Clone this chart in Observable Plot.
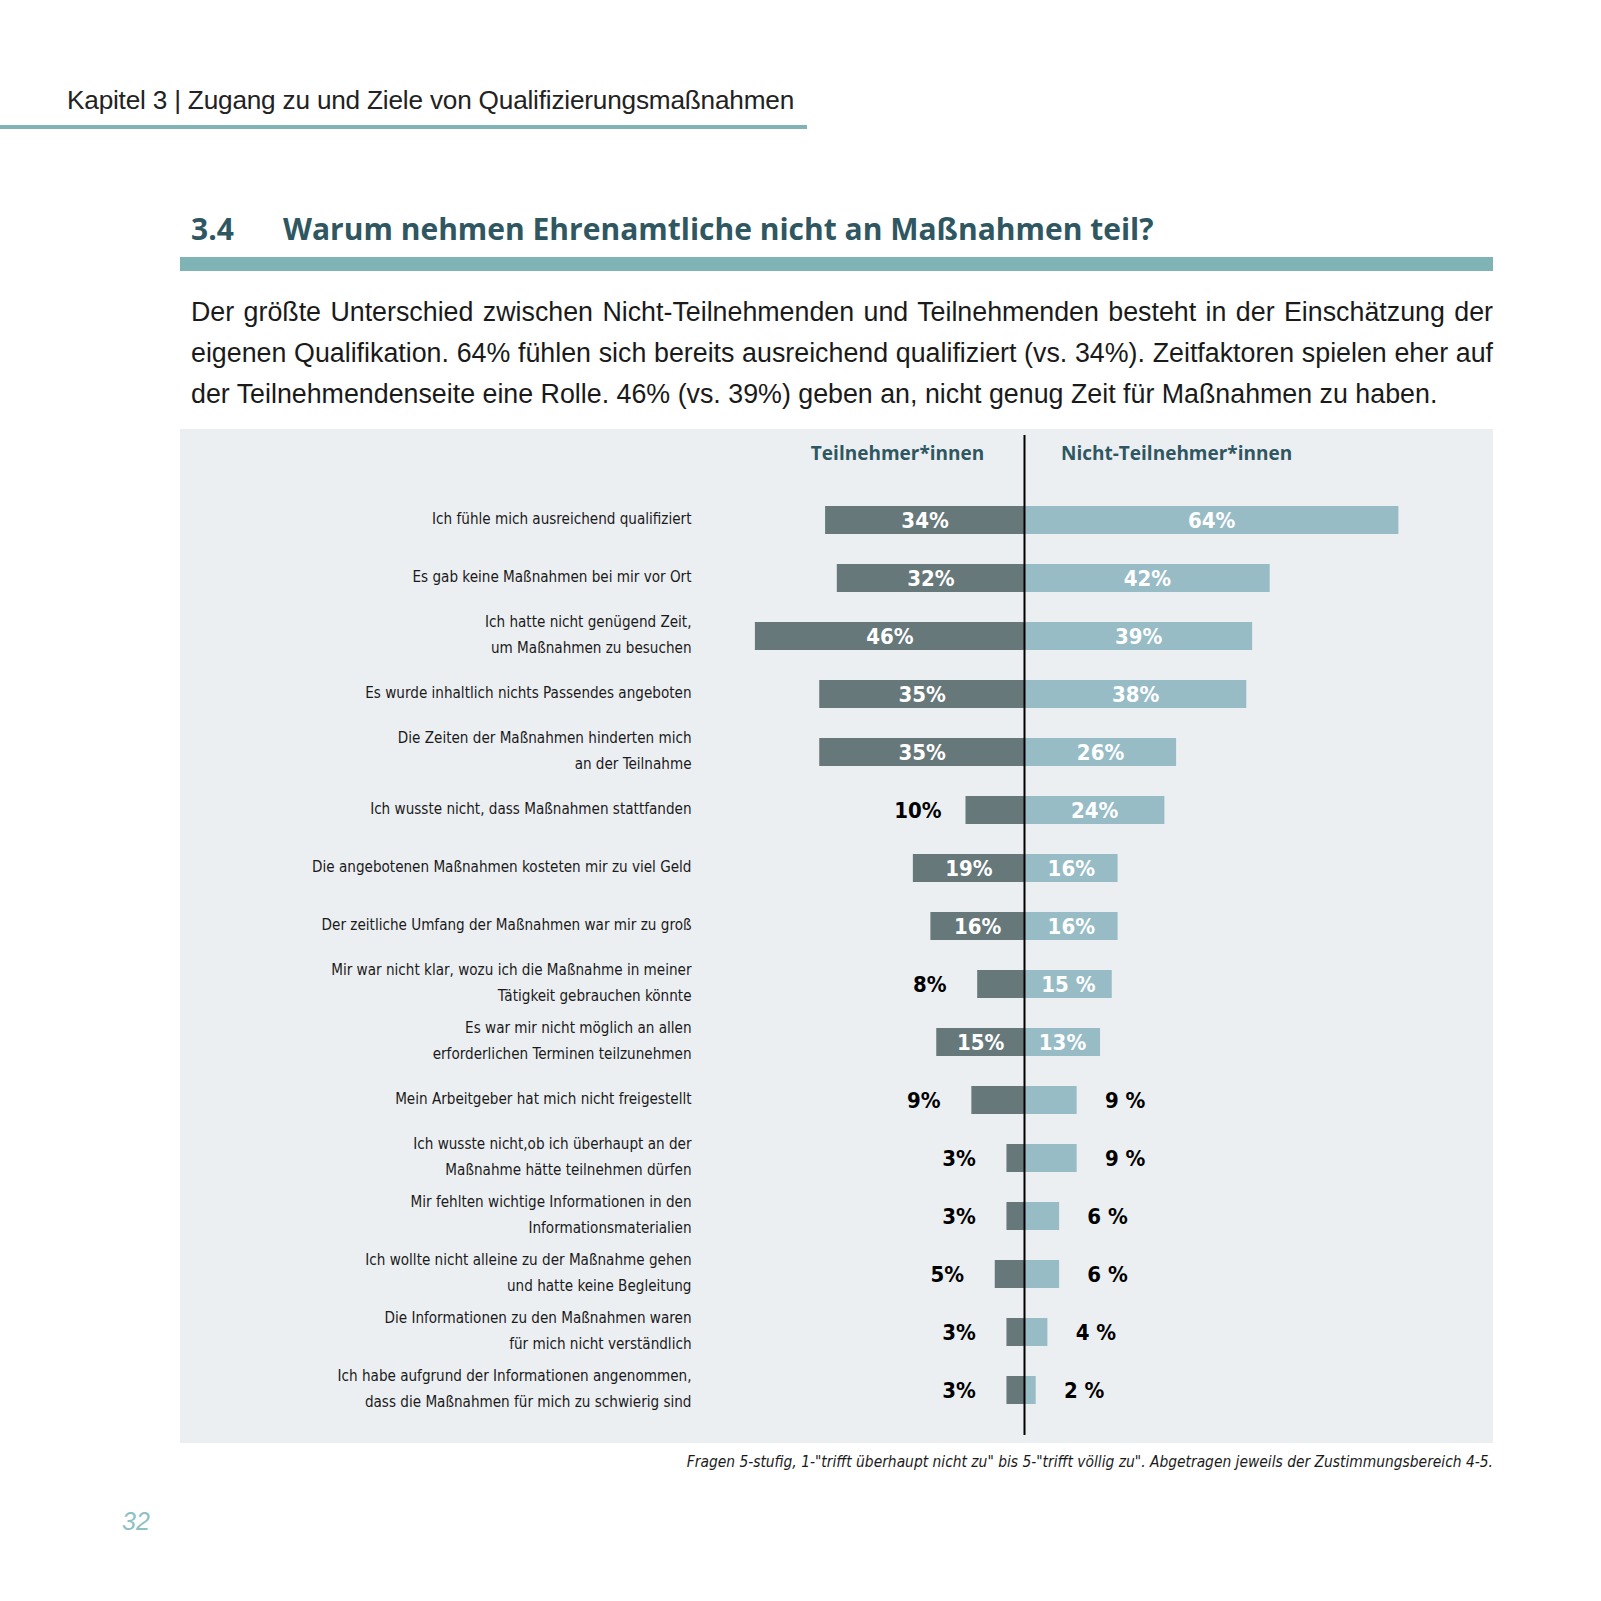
<!DOCTYPE html>
<html>
<head>
<meta charset="utf-8">
<script src="https://cdn.jsdelivr.net/npm/d3@7"></script>
<script src="https://cdn.jsdelivr.net/npm/@observablehq/plot@0.6"></script>
<style>
  html, body { margin: 0; padding: 0; background: #fff; }
  body { width: 1601px; height: 1601px; position: relative; overflow: hidden; font-family: "Liberation Sans", Arial, sans-serif; }
  .abs { position: absolute; }
  #kapitel { left: 67px; top: 85px; font-size: 26.2px; color: #222; white-space: nowrap; letter-spacing: -0.2px; }
  #kapline { left: 0; top: 125px; width: 807px; height: 4px; background: #7fb3b5; }
  #title { left: 191px; top: 208px; font-family: "Open Sans", sans-serif; font-weight: 700; font-size: 30px; color: #2e5761; white-space: nowrap; }
  #title .num { display: inline-block; width: 92px; }
  #titlebar { left: 180px; top: 257px; width: 1313px; height: 14px; background: #7fb3b5; }
  #para { left: 191px; top: 292px; width: 1302px; font-size: 26.8px; line-height: 41px; color: #1a1a1a; }
  #para div { white-space: nowrap; }
  #para .j { text-align: justify; text-align-last: justify; word-spacing: -2px; }
  #chart { left: 180px; top: 429px; }
  #caption { right: 108px; top: 1453px; font-family: "DejaVu Sans Condensed", sans-serif; font-style: italic; font-size: 15.4px; color: #1a1a1a; white-space: nowrap; }
  #page { left: 122px; top: 1507px; font-size: 25px; font-style: italic; color: #8fc0c3; }
</style>
</head>
<body>
<div class="abs" id="kapitel">Kapitel 3 | Zugang zu und Ziele von Qualifizierungsmaßnahmen</div>
<div class="abs" id="kapline"></div>
<div class="abs" id="title"><span class="num">3.4</span>Warum nehmen Ehrenamtliche nicht an Maßnahmen teil?</div>
<div class="abs" id="titlebar"></div>
<div class="abs" id="para">
  <div class="j">Der größte Unterschied zwischen Nicht-Teilnehmenden und Teilnehmenden besteht in der Einschätzung der</div>
  <div class="j">eigenen Qualifikation. 64% fühlen sich bereits ausreichend qualifiziert (vs. 34%). Zeitfaktoren spielen eher auf</div>
  <div>der Teilnehmendenseite eine Rolle. 46% (vs. 39%) geben an, nicht genug Zeit für Maßnahmen zu haben.</div>
</div>
<div class="abs" id="chart"></div>
<div class="abs" id="caption">Fragen 5-stufig, 1-"trifft überhaupt nicht zu" bis 5-"trifft völlig zu". Abgetragen jeweils der Zustimmungsbereich 4-5.</div>
<div class="abs" id="page">32</div>
<script>
const categories = [
  "Ich fühle mich ausreichend qualifiziert",
  "Es gab keine Maßnahmen bei mir vor Ort",
  "Ich hatte nicht genügend Zeit,\num Maßnahmen zu besuchen",
  "Es wurde inhaltlich nichts Passendes angeboten",
  "Die Zeiten der Maßnahmen hinderten mich\nan der Teilnahme",
  "Ich wusste nicht, dass Maßnahmen stattfanden",
  "Die angebotenen Maßnahmen kosteten mir zu viel Geld",
  "Der zeitliche Umfang der Maßnahmen war mir zu groß",
  "Mir war nicht klar, wozu ich die Maßnahme in meiner\nTätigkeit gebrauchen könnte",
  "Es war mir nicht möglich an allen\nerforderlichen Terminen teilzunehmen",
  "Mein Arbeitgeber hat mich nicht freigestellt",
  "Ich wusste nicht,ob ich überhaupt an der\nMaßnahme hätte teilnehmen dürfen",
  "Mir fehlten wichtige Informationen in den\nInformationsmaterialien",
  "Ich wollte nicht alleine zu der Maßnahme gehen\nund hatte keine Begleitung",
  "Die Informationen zu den Maßnahmen waren\nfür mich nicht verständlich",
  "Ich habe aufgrund der Informationen angenommen,\ndass die Maßnahmen für mich zu schwierig sind"
];
const teilnehmer = [34, 32, 46, 35, 35, 10, 19, 16, 8, 15, 9, 3, 3, 5, 3, 3];
const nichtTeilnehmer = [64, 42, 39, 38, 26, 24, 16, 16, 15, 13, 9, 9, 6, 6, 4, 2];
const teilnehmerLabels = teilnehmer.map(v => v + "%");
const nichtLabels = ["64%", "42%", "39%", "38%", "26%", "24%", "16%", "16%", "15 %", "13%", "9 %", "9 %", "6 %", "6 %", "4 %", "2 %"];
const groups = ["Teilnehmer*innen", "Nicht-Teilnehmer*innen"];
const groupCenters = [-21.7, 26];

const rows = [];
categories.forEach((c, i) => {
  rows.push({cat: c, side: "left", x1: -teilnehmer[i], x2: 0, v: teilnehmer[i], label: teilnehmerLabels[i]});
  rows.push({cat: c, side: "right", x1: 0, x2: nichtTeilnehmer[i], v: nichtTeilnehmer[i], label: nichtLabels[i]});
});
const inside = rows.filter(d => d.v >= 12);
const outsideL = rows.filter(d => d.v < 12 && d.side === "left");
const outsideR = rows.filter(d => d.v < 12 && d.side === "right");

const numFont = '"DejaVu Sans Condensed", sans-serif';

const chart = Plot.plot({
  width: 1313,
  height: 1014,
  margin: 0,
  style: {background: "#eceff2", overflow: "visible"},
  x: {domain: [-50, 70], range: [844 - 50 * 5.85, 844 + 70 * 5.85]},
  y: {domain: categories, range: [60.6, 991.8], paddingInner: 0.52, paddingOuter: 0.26},
  color: {domain: ["left", "right"], range: ["#67787b", "#98bcc6"]},
  axis: null,
  marks: [
    Plot.barX(rows, {x1: "x1", x2: "x2", y: "cat", fill: "side"}),
    Plot.ruleX([0], {stroke: "#000", strokeWidth: 2, insetTop: 6, insetBottom: 8}),
    Plot.text(inside, {x: d => (d.x1 + d.x2) / 2, y: "cat", text: "label", fill: "#fff",
      fontFamily: numFont, fontWeight: "bold", fontSize: 22}),
    Plot.text(outsideL, {x: "x1", y: "cat", text: "label", fill: "#000", dx: -48,
      fontFamily: numFont, fontWeight: "bold", fontSize: 22}),
    Plot.text(outsideR, {x: "x2", y: "cat", text: "label", fill: "#000", dx: 48,
      fontFamily: numFont, fontWeight: "bold", fontSize: 22}),
    Plot.text(categories, {y: d => d, text: d => d, frameAnchor: "left", dx: 511, dy: -5, textAnchor: "end",
      fill: "#1a1a1a", fontFamily: numFont, fontSize: 15.1, lineHeight: 1.7}),
    Plot.text(groups, {x: (d, i) => groupCenters[i], text: d => d, frameAnchor: "top", dy: 17,
      fill: "#2e5761", fontFamily: '"Open Sans", sans-serif', fontWeight: 700, fontSize: 19})
  ]
});
document.getElementById("chart").appendChild(chart);
</script>
</body>
</html>
